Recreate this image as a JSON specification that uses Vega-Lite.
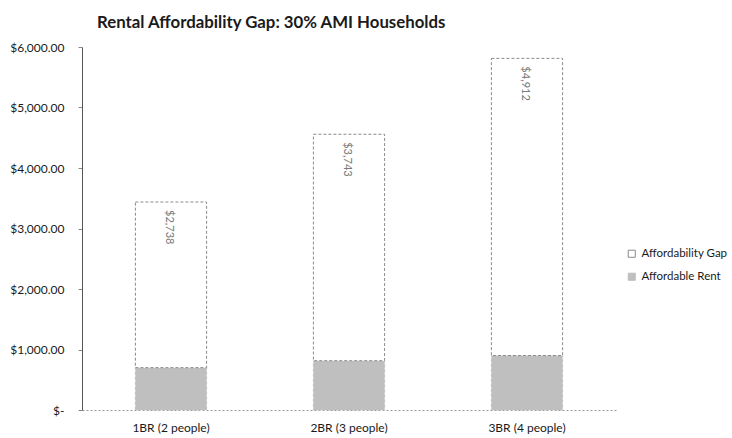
{
  "$schema": "https://vega.github.io/schema/vega-lite/v6.json",
  "autosize": "none",
  "width": 534,
  "height": 363,
  "padding": {"left": 82, "top": 47, "right": 116, "bottom": 28},
  "background": "white",
  "config": {
    "font": "Lato",
    "view": {"stroke": null},
    "axis": {"labelFont": "Lato", "labelFontSize": 12, "labelColor": "#1a1a1a", "grid": false}
  },
  "title": {
    "text": "Rental Affordability Gap: 30% AMI Households",
    "anchor": "start",
    "frame": "group",
    "dx": 15,
    "fontSize": 16.8,
    "fontWeight": "bold",
    "color": "#1a1a1a",
    "font": "Lato",
    "offset": 9
  },
  "layer": [
    {
      "data": {
        "values": [
          {"category": "1BR (2 people)", "series": "Affordable Rent", "value": 700, "order": 1},
          {"category": "1BR (2 people)", "series": "Affordability Gap", "value": 2738, "order": 2},
          {"category": "2BR (3 people)", "series": "Affordable Rent", "value": 815, "order": 1},
          {"category": "2BR (3 people)", "series": "Affordability Gap", "value": 3743, "order": 2},
          {"category": "3BR (4 people)", "series": "Affordable Rent", "value": 900, "order": 1},
          {"category": "3BR (4 people)", "series": "Affordability Gap", "value": 4912, "order": 2}
        ]
      },
      "mark": {"type": "bar", "strokeWidth": 1, "strokeDash": [3, 2]},
      "encoding": {
        "x": {
          "field": "category", "type": "nominal", "sort": null,
          "scale": {"paddingInner": 0.6, "paddingOuter": 0.3},
          "axis": {"title": null, "labelAngle": 0, "ticks": false, "domainColor": "#999", "domainDash": [2, 2], "labelPadding": 12}
        },
        "y": {
          "field": "value", "type": "quantitative", "stack": "zero",
          "scale": {"domain": [0, 6000], "nice": false},
          "axis": {
            "title": null, "values": [0, 1000, 2000, 3000, 4000, 5000, 6000],
            "labelExpr": "datum.value == 0 ? '$-' : format(datum.value, '$,.2f')",
            "domainColor": "#555", "tickColor": "#888", "tickSize": 4, "labelPadding": 14
          }
        },
        "order": {"field": "order", "type": "quantitative"},
        "fill": {
          "field": "series", "type": "nominal",
          "scale": {"domain": ["Affordability Gap", "Affordable Rent"], "range": ["#ffffff", "#bfbfbf"]},
          "legend": {
            "title": null, "orient": "none", "legendX": 544, "legendY": 201,
            "symbolType": "square", "symbolSize": 50, "labelFontSize": 11.5, "labelFont": "Lato",
            "labelColor": "#1a1a1a", "rowPadding": 10, "symbolStrokeWidth": 1, "labelOffset": 4
          }
        },
        "stroke": {
          "field": "series", "type": "nominal",
          "scale": {"domain": ["Affordability Gap", "Affordable Rent"], "range": ["#8a8a8a", "#bfbfbf"]},
          "legend": {
            "title": null, "orient": "none", "legendX": 544, "legendY": 201,
            "symbolType": "square", "symbolSize": 50, "labelFontSize": 11.5, "labelFont": "Lato",
            "labelColor": "#1a1a1a", "rowPadding": 10, "labelOffset": 4
          }
        }
      }
    },
    {
      "data": {
        "values": [
          {"category": "1BR (2 people)", "total": 3438, "label": "$2,738"},
          {"category": "2BR (3 people)", "total": 4558, "label": "$3,743"},
          {"category": "3BR (4 people)", "total": 5812, "label": "$4,912"}
        ]
      },
      "mark": {"type": "text", "angle": 90, "align": "left", "baseline": "middle", "dx": 8, "dy": 2, "fontSize": 11, "color": "#7a7a7a", "font": "Lato"},
      "encoding": {
        "x": {"field": "category", "type": "nominal", "sort": null},
        "y": {"field": "total", "type": "quantitative"},
        "text": {"field": "label"}
      }
    }
  ]
}
